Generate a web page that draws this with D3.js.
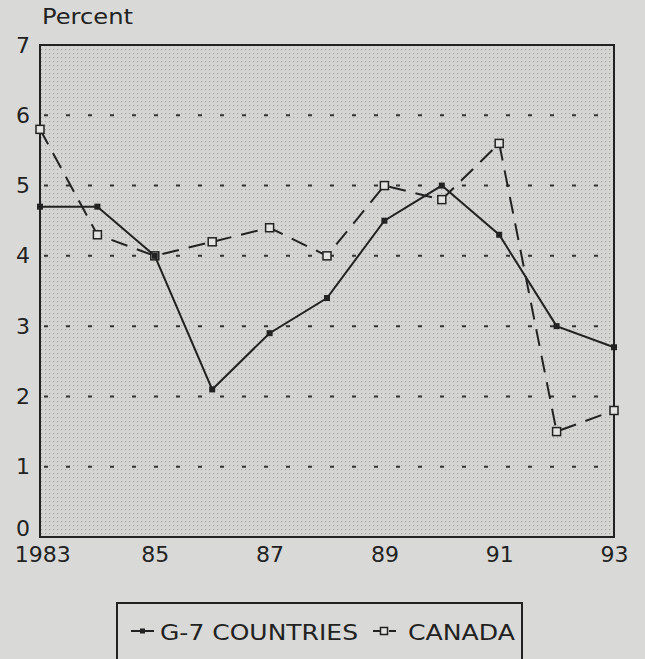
<!DOCTYPE html>
<html>
<head>
<meta charset="utf-8">
<script src="https://cdn.jsdelivr.net/npm/d3@7"></script>
<style>
  body { margin: 0; background: #d9d9d7; }
  svg { display: block; font-family: "DejaVu Sans", Arial, sans-serif; }
</style>
</head>
<body>
<svg id="chart"></svg>
<script>
var years = [1983, 1984, 1985, 1986, 1987, 1988, 1989, 1990, 1991, 1992, 1993];
var g7 = [4.7, 4.7, 4.0, 2.1, 2.9, 3.4, 4.5, 5.0, 4.3, 3.0, 2.7];
var canada = [5.8, 4.3, 4.0, 4.2, 4.4, 4.0, 5.0, 4.8, 5.6, 1.5, 1.8];
var yTicks = [0, 1, 2, 3, 4, 5, 6, 7];
var xTicks = [1983, 1985, 1987, 1989, 1991, 1993];
var xTickLabels = ["1983", "85", "87", "89", "91", "93"];

var width = 645, height = 659;
var plotLeft = 40, plotRight = 614, plotTop = 45, plotBottom = 537;
var ink = "#222";

var svg = d3.select("#chart").attr("width", width).attr("height", height);

var x = d3.scaleLinear().domain([1983, 1993]).range([plotLeft, plotRight]);
var y = d3.scaleLinear().domain([0, 7]).range([plotBottom, plotTop]);

var defs = svg.append("defs");
var pat = defs.append("pattern").attr("id", "dots")
    .attr("width", 4).attr("height", 4).attr("patternUnits", "userSpaceOnUse");
pat.append("rect").attr("width", 4).attr("height", 4).attr("fill", "#d5d5d3");
pat.append("rect").attr("x", 1).attr("y", 1).attr("width", 1.2).attr("height", 1.2).attr("fill", "#a6a6a4");

svg.append("rect").attr("x", plotLeft).attr("y", plotTop)
    .attr("width", plotRight - plotLeft).attr("height", plotBottom - plotTop)
    .attr("fill", "url(#dots)");

// gridlines
svg.append("g").selectAll("line").data(yTicks.filter(function(d) { return d > 0 && d < 7; }))
  .enter().append("line")
    .attr("x1", plotLeft + 4).attr("x2", plotRight)
    .attr("y1", function(d) { return y(d); }).attr("y2", function(d) { return y(d); })
    .attr("stroke", "#333").attr("stroke-width", 2)
    .attr("stroke-dasharray", "4,18");

// frame
svg.append("rect").attr("x", plotLeft).attr("y", plotTop)
    .attr("width", plotRight - plotLeft).attr("height", plotBottom - plotTop)
    .attr("fill", "none").attr("stroke", ink).attr("stroke-width", 2);

// y axis labels
var yAxis = d3.axisLeft(y).tickValues(yTicks).tickSize(0).tickPadding(10).tickFormat(d3.format("d"));
var ya = svg.append("g").attr("transform", "translate(" + plotLeft + ",0)").call(yAxis);
ya.select(".domain").remove();
ya.selectAll("text").attr("font-size", 22).attr("fill", ink)
  .attr("font-family", "DejaVu Sans, Arial, sans-serif");
ya.selectAll(".tick").filter(function(d) { return d === 0; }).select("text").attr("dy", "-0.05em");

// x axis labels
var xAxis = d3.axisBottom(x).tickValues(xTicks).tickSize(0).tickPadding(9)
    .tickFormat(function(d, i) { return xTickLabels[i]; });
var xa = svg.append("g").attr("transform", "translate(0," + plotBottom + ")").call(xAxis);
xa.select(".domain").remove();
xa.selectAll("text").attr("font-size", 22).attr("fill", ink)
  .attr("font-family", "DejaVu Sans, Arial, sans-serif");
xa.selectAll(".tick").filter(function(d) { return d === 1983; }).select("text").attr("dx", "0.1em");

svg.append("text").attr("x", 42).attr("y", 24).attr("font-size", 21).attr("fill", ink)
    .attr("textLength", 91).attr("lengthAdjust", "spacingAndGlyphs").text("Percent");

var line = d3.line().x(function(d, i) { return x(years[i]); }).y(function(d) { return y(d); });

// Canada
svg.append("path").datum(canada).attr("d", line)
    .attr("fill", "none").attr("stroke", ink).attr("stroke-width", 2)
    .attr("stroke-dasharray", "17,10");
svg.append("g").selectAll("rect").data(canada).enter().append("rect")
    .attr("x", function(d, i) { return x(years[i]) - 4; })
    .attr("y", function(d) { return y(d) - 4; })
    .attr("width", 8).attr("height", 8)
    .attr("fill", "#e4e4e2").attr("stroke", ink).attr("stroke-width", 1.5);

// G-7
svg.append("path").datum(g7).attr("d", line)
    .attr("fill", "none").attr("stroke", ink).attr("stroke-width", 2);
svg.append("g").selectAll("rect").data(g7).enter().append("rect")
    .attr("x", function(d, i) { return x(years[i]) - 3; })
    .attr("y", function(d) { return y(d) - 3; })
    .attr("width", 6).attr("height", 6)
    .attr("fill", ink);

// legend
var lg = svg.append("g");
lg.append("rect").attr("x", 117).attr("y", 603).attr("width", 405).attr("height", 62)
    .attr("fill", "none").attr("stroke", ink).attr("stroke-width", 2);
lg.append("line").attr("x1", 131).attr("x2", 154).attr("y1", 631).attr("y2", 631)
    .attr("stroke", ink).attr("stroke-width", 2);
lg.append("rect").attr("x", 140).attr("y", 628.5).attr("width", 5).attr("height", 5).attr("fill", ink);
lg.append("text").attr("x", 160).attr("y", 640).attr("font-size", 21).attr("fill", ink)
    .attr("textLength", 198).attr("lengthAdjust", "spacingAndGlyphs").text("G-7 COUNTRIES");
lg.append("line").attr("x1", 373).attr("x2", 380).attr("y1", 631).attr("y2", 631)
    .attr("stroke", ink).attr("stroke-width", 2);
lg.append("line").attr("x1", 389).attr("x2", 396).attr("y1", 631).attr("y2", 631)
    .attr("stroke", ink).attr("stroke-width", 2);
lg.append("rect").attr("x", 380.5).attr("y", 627.5).attr("width", 7).attr("height", 7)
    .attr("fill", "#e4e4e2").attr("stroke", ink).attr("stroke-width", 1.5);
lg.append("text").attr("x", 408).attr("y", 640).attr("font-size", 21).attr("fill", ink)
    .attr("textLength", 107).attr("lengthAdjust", "spacingAndGlyphs").text("CANADA");
</script>
</body>
</html>
